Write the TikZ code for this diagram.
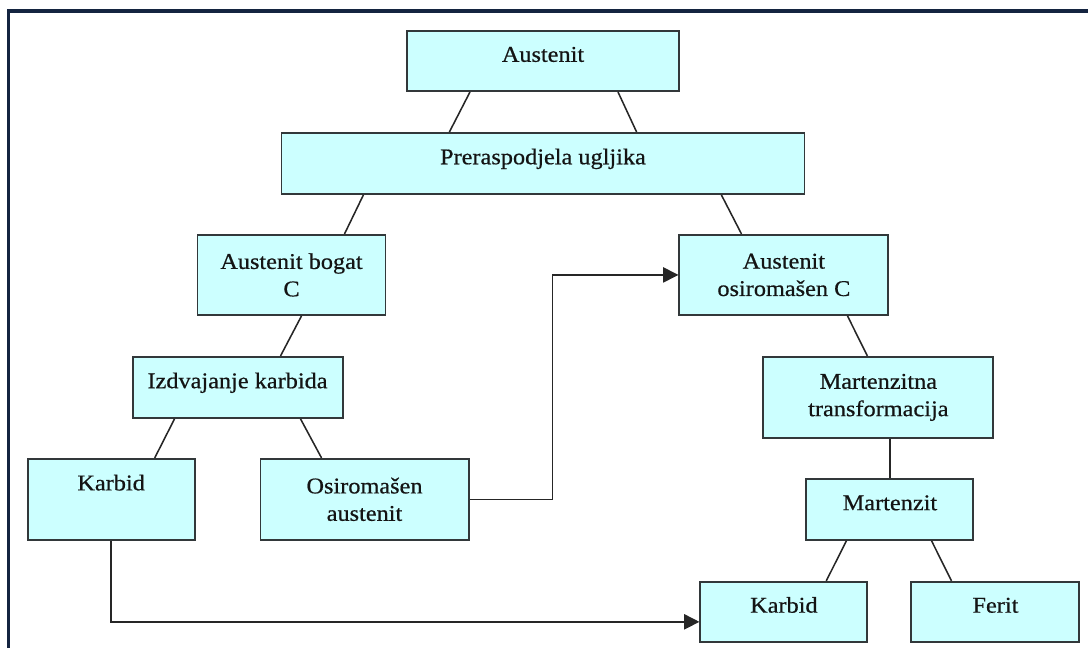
\documentclass[tikz,border=0pt]{standalone}
\usepackage{fontspec}
\setmainfont{Liberation Serif}[FakeStretch=1.08, FakeBold=0.6]
\usepackage{tikz}
\usetikzlibrary{arrows.meta,positioning,calc}
\definecolor{boxfill}{RGB}{204,255,255}
\definecolor{boxline}{RGB}{50,56,58}
\definecolor{framec}{RGB}{20,36,64}

\begin{document}
\begin{tikzpicture}[
  font=\fontsize{16}{19.5}\selectfont,
  box/.style={draw=boxline, fill=boxfill, line width=1.4pt, align=center,
              inner sep=0pt, text=black!92},
  one/.style={box, text height=3.7mm, text depth=3.3mm},
  ln/.style={draw=black!85, line width=1.1pt},
  ar/.style={ln, -{Triangle[length=3.8mm, width=3.8mm]}}]

\useasboundingbox (-135.75mm,-146.75mm) rectangle (136.25mm,15.25mm);
\draw[framec, line width=2.2pt] (-133.6mm,-146.75mm) |- (136.25mm,12.5mm);

% --- top: austenite and carbon redistribution
\node[one, minimum width=68mm, minimum height=15mm] (aus) at (0,0) {Austenit};
\node[one, below=10mm of aus, minimum width=130.75mm, minimum height=15.25mm] (prera) {Preraspodjela ugljika};

% --- left branch: carbon-rich austenite
\node[box, below=9.75mm of prera.south west, xshift=2.75mm,
      minimum width=47mm, minimum height=20mm] (bogat) {Austenit bogat\\C};
\node[one, below=10mm of bogat.south west, xshift=10.25mm,
      minimum width=52.5mm, minimum height=15.25mm] (izdv) {Izdvajanje karbida};
\node[box, below=9.75mm of izdv.south west, xshift=-5.1mm, text height=3.7mm, text depth=8.2mm,
      minimum width=41.75mm, minimum height=20.25mm] (karb1) {Karbid};
\node[box, below=9.75mm of izdv.south east, xshift=5.25mm,
      minimum width=52mm, minimum height=20.25mm] (osirA) {Osiromašen\\austenit};

% --- right branch: carbon-poor austenite
\node[box, below=9.75mm of prera.south east, xshift=-5.4mm,
      minimum width=52.25mm, minimum height=20mm] (osirC) {Austenit\\osiromašen C};
\node[box, below=10mm of osirC.south east, xshift=-2.75mm,
      minimum width=57.5mm, minimum height=20.25mm] (mtr) {Martenzitna\\transformacija};
\node[one, below=9.75mm of mtr, xshift=2.9mm,
      minimum width=41.75mm, minimum height=15.25mm] (mart) {Martenzit};
\node[one, below=10mm of mart.south west, xshift=-5.4mm,
      minimum width=41.75mm, minimum height=15mm] (karb2) {Karbid};
\node[one, below=10mm of mart.south east, xshift=5.25mm,
      minimum width=42mm, minimum height=15mm] (ferit) {Ferit};

\draw[ln] ([xshift=-18.25mm]aus.south) -- ([xshift=-23.4mm]prera.north);
\draw[ln] ([xshift=18.75mm]aus.south) -- ([xshift=23.4mm]prera.north);
\draw[ln] ([xshift=-44.9mm]prera.south) -- ([xshift=13.25mm]bogat.north);
\draw[ln] ([xshift=44.6mm]prera.south) -- ([xshift=-10.6mm]osirC.north);
\draw[ln] ([xshift=2.5mm]bogat.south) -- ([xshift=10.75mm]izdv.north);
\draw[ln] ([xshift=-15.75mm]izdv.south) -- ([xshift=10.9mm]karb1.north);
\draw[ln] ([xshift=15.75mm]izdv.south) -- ([xshift=-10.75mm]osirA.north);
\draw[ln] ([xshift=15.9mm]osirC.south) -- ([xshift=-2.75mm]mtr.north);
\draw[ln] (mart.north) -- (mart.north |- mtr.south);
\draw[ln] ([xshift=-10.9mm]mart.south) -- ([xshift=10.6mm]karb2.north);
\draw[ln] ([xshift=10.4mm]mart.south) -- ([xshift=-11mm]ferit.north);

\draw[ar] (osirA.east) -- ++(20.75mm,0) |- (osirC.west);
\draw[ar] (karb1.south) |- ([yshift=-2.5mm]karb2.west);
\end{tikzpicture}
\end{document}
